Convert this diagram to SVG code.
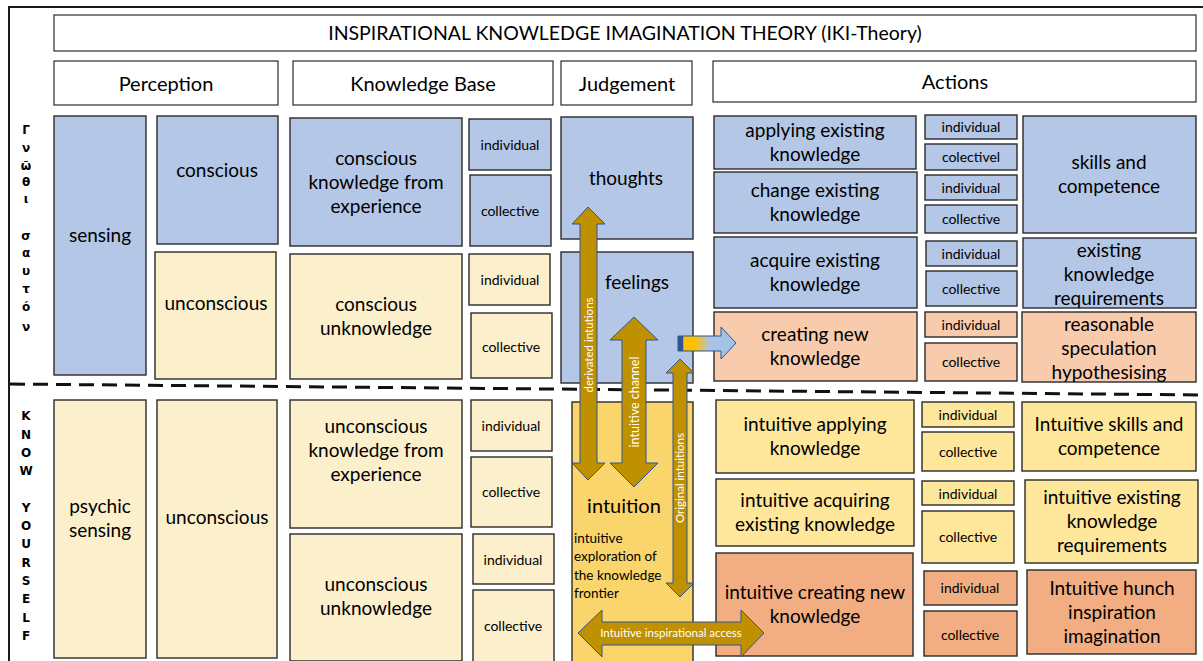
<svg xmlns="http://www.w3.org/2000/svg" width="1203" height="661" viewBox="0 0 1203 661">
<defs>
<style>
.b{stroke:#2a2a2a;stroke-width:1.4}
.hd{fill:#fff;stroke:#2a2a2a;stroke-width:1.2}
.blue{fill:#b4c7e7}
.ly{fill:#fcefcc}
.yy{fill:#fee69b}
.gold{fill:#fad56c}
.sal{fill:#f8cbad}
.org{fill:#f2ae82}
text{font-family:Lato,"Liberation Sans",sans-serif;fill:#000;text-anchor:middle}
.t{font-size:19px}
.h{font-size:20px}
.s{font-size:14px}
.side{font-family:"DejaVu Sans","Liberation Sans",sans-serif;font-weight:bold;font-size:12px}
.al{fill:#fff;font-size:11.5px}
.arr{fill:#bf9000;stroke:#2f5597;stroke-width:1}
</style>
<linearGradient id="ga" gradientUnits="userSpaceOnUse" x1="678" y1="0" x2="736" y2="0">
<stop offset="0" stop-color="#2f5597"/>
<stop offset="0.08" stop-color="#2f5597"/>
<stop offset="0.1" stop-color="#ffc000"/>
<stop offset="0.3" stop-color="#ffc000"/>
<stop offset="0.55" stop-color="#a9c4e6"/>
<stop offset="1" stop-color="#9dc3e6"/>
</linearGradient>
</defs>
<rect width="1203" height="661" fill="#fff"/>
<path d="M9,661 L9,7 L1203,7" fill="none" stroke="#1a1a1a" stroke-width="2"/>

<g id="title"><rect class="hd" x="54" y="15" width="1142" height="36"/><text x="625" y="40" style="font-size:19.5px">INSPIRATIONAL KNOWLEDGE IMAGINATION THEORY (IKI-Theory)</text></g>
<g id="h-perception"><rect class="hd" x="54" y="61" width="224" height="44"/><text class="h" x="166" y="91">Perception</text></g>
<g id="h-kb"><rect class="hd" x="293" y="61" width="260" height="44"/><text class="h" x="423" y="91">Knowledge Base</text></g>
<g id="h-judgement"><rect class="hd" x="561" y="61" width="131" height="44"/><text class="h" x="627" y="91">Judgement</text></g>
<g id="h-actions"><rect class="hd" x="713" y="61" width="483" height="41"/><text class="h" x="955" y="89">Actions</text></g>

<g id="greek">
<text class="side" x="26" y="134">Γ</text>
<text class="side" x="26" y="152">ν</text>
<text class="side" x="26" y="170">ῶ</text>
<text class="side" x="26" y="186">θ</text>
<text class="side" x="26" y="203">ι</text>
<text class="side" x="26" y="240">σ</text>
<text class="side" x="26" y="257">α</text>
<text class="side" x="26" y="275">υ</text>
<text class="side" x="26" y="293">τ</text>
<text class="side" x="26" y="311">ό</text>
<text class="side" x="26" y="331">ν</text>
</g>
<g id="know-yourself">
<text class="side" x="26" y="420">K</text>
<text class="side" x="26" y="439">N</text>
<text class="side" x="26" y="457">O</text>
<text class="side" x="26" y="475">W</text>
<text class="side" x="26" y="512">Y</text>
<text class="side" x="26" y="530">O</text>
<text class="side" x="26" y="548">U</text>
<text class="side" x="26" y="567">R</text>
<text class="side" x="26" y="585">S</text>
<text class="side" x="26" y="603">E</text>
<text class="side" x="26" y="622">L</text>
<text class="side" x="26" y="640">F</text>
</g>

<g id="dashed"><line x1="10" y1="384" x2="1203" y2="395" stroke="#111" stroke-width="3" stroke-dasharray="15 8"/></g>

<g id="sensing"><rect class="b blue" x="54" y="116" width="92" height="259"/><text class="t" x="100" y="242">sensing</text></g>
<g id="conscious"><rect class="b blue" x="157" y="116" width="121" height="128"/><text class="t" x="217" y="177">conscious</text></g>
<g id="unconscious-top"><rect class="b ly" x="155" y="252" width="121" height="127"/><text class="t" x="216" y="310">unconscious</text></g>
<g id="ckfe"><rect class="b blue" x="290" y="118" width="172" height="128"/><text class="t" x="376" y="165">conscious</text><text class="t" x="376" y="189">knowledge from</text><text class="t" x="376" y="213">experience</text></g>
<g id="kb-ind1"><rect class="b blue" x="469" y="119" width="82" height="51"/><text class="s" x="510" y="150">individual</text></g>
<g id="kb-col1"><rect class="b blue" x="470" y="175" width="81" height="71"/><text class="s" x="510" y="216">collective</text></g>
<g id="cuk"><rect class="b ly" x="290" y="254" width="172" height="125"/><text class="t" x="376" y="311">conscious</text><text class="t" x="376" y="335">unknowledge</text></g>
<g id="kb-ind2"><rect class="b ly" x="469" y="254" width="81" height="51"/><text class="s" x="510" y="285">individual</text></g>
<g id="kb-col2"><rect class="b ly" x="471" y="313" width="81" height="65"/><text class="s" x="511" y="352">collective</text></g>
<g id="thoughts"><rect class="b blue" x="561" y="117" width="132" height="122"/><text class="t" x="626" y="185">thoughts</text></g>
<g id="feelings"><rect class="b blue" x="561" y="252" width="132" height="131"/><text class="t" x="637" y="289">feelings</text></g>

<g id="psychic"><rect class="b ly" x="54" y="400" width="92" height="258"/><text class="t" x="100" y="513">psychic</text><text class="t" x="100" y="537">sensing</text></g>
<g id="unconscious-bot"><rect class="b ly" x="157" y="400" width="120" height="258"/><text class="t" x="217" y="524">unconscious</text></g>
<g id="ukfe"><rect class="b ly" x="290" y="400" width="172" height="128"/><text class="t" x="376" y="433">unconscious</text><text class="t" x="376" y="457">knowledge from</text><text class="t" x="376" y="481">experience</text></g>
<g id="kb-ind3"><rect class="b ly" x="471" y="400" width="81" height="51"/><text class="s" x="511" y="431">individual</text></g>
<g id="kb-col3"><rect class="b ly" x="471" y="457" width="81" height="70"/><text class="s" x="511" y="497">collective</text></g>
<g id="uuk"><rect class="b ly" x="290" y="534" width="172" height="127"/><text class="t" x="376" y="591">unconscious</text><text class="t" x="376" y="615">unknowledge</text></g>
<g id="kb-ind4"><rect class="b ly" x="473" y="534" width="81" height="50"/><text class="s" x="513" y="565">individual</text></g>
<g id="kb-col4"><rect class="b ly" x="473" y="590" width="81" height="72"/><text class="s" x="513" y="631">collective</text></g>
<g id="intuition"><rect class="b gold" x="572" y="402" width="121" height="262"/><text class="h" x="624" y="513">intuition</text>
<text x="574" y="543" style="font-size:13.5px;text-anchor:start">intuitive</text>
<text x="574" y="561" style="font-size:13.5px;text-anchor:start">exploration of</text>
<text x="574" y="580" style="font-size:13.5px;text-anchor:start">the knowledge</text>
<text x="574" y="598" style="font-size:13.5px;text-anchor:start">frontier</text></g>

<g id="a-apply"><rect class="b blue" x="714" y="116" width="202" height="53"/><text class="t" x="815" y="137">applying existing</text><text class="t" x="815" y="161">knowledge</text></g>
<g id="a-change"><rect class="b blue" x="714" y="172" width="203" height="61"/><text class="t" x="815" y="197">change existing</text><text class="t" x="815" y="221">knowledge</text></g>
<g id="a-acquire"><rect class="b blue" x="714" y="237" width="203" height="71"/><text class="t" x="815" y="267">acquire existing</text><text class="t" x="815" y="291">knowledge</text></g>
<g id="a-create"><rect class="b sal" x="714" y="312" width="203" height="69"/><text class="t" x="815" y="341">creating new</text><text class="t" x="815" y="365">knowledge</text></g>
<g id="a-ind1"><rect class="b blue" x="925" y="115" width="92" height="24"/><text class="s" x="971" y="132">individual</text></g>
<g id="a-col1"><rect class="b blue" x="925" y="144" width="92" height="26"/><text class="s" x="971" y="162">colectivel</text></g>
<g id="a-ind2"><rect class="b blue" x="925" y="175" width="92" height="25"/><text class="s" x="971" y="193">individual</text></g>
<g id="a-col2"><rect class="b blue" x="925" y="205" width="92" height="28"/><text class="s" x="971" y="224">collective</text></g>
<g id="a-ind3"><rect class="b blue" x="926" y="241" width="91" height="25"/><text class="s" x="971" y="259">individual</text></g>
<g id="a-col3"><rect class="b blue" x="926" y="271" width="91" height="35"/><text class="s" x="971" y="294">collective</text></g>
<g id="a-ind4"><rect class="b sal" x="925" y="312" width="92" height="25"/><text class="s" x="971" y="330">individual</text></g>
<g id="a-col4"><rect class="b sal" x="925" y="343" width="92" height="38"/><text class="s" x="971" y="367">collective</text></g>
<g id="a-skills"><rect class="b blue" x="1023" y="116" width="173" height="117"/><text class="t" x="1109" y="169">skills and</text><text class="t" x="1109" y="193">competence</text></g>
<g id="a-ekr"><rect class="b blue" x="1023" y="238" width="173" height="70"/><text class="t" x="1109" y="257">existing</text><text class="t" x="1109" y="281">knowledge</text><text class="t" x="1109" y="305">requirements</text></g>
<g id="a-rsh"><rect class="b sal" x="1022" y="312" width="174" height="70"/><text class="t" x="1109" y="331">reasonable</text><text class="t" x="1109" y="355">speculation</text><text class="t" x="1109" y="379">hypothesising</text></g>

<g id="i-apply"><rect class="b yy" x="716" y="400" width="198" height="73"/><text class="t" x="815" y="431">intuitive applying</text><text class="t" x="815" y="455">knowledge</text></g>
<g id="i-acquire"><rect class="b yy" x="716" y="479" width="198" height="67"/><text class="t" x="815" y="507">intuitive acquiring</text><text class="t" x="815" y="531">existing knowledge</text></g>
<g id="i-create"><rect class="b org" x="716" y="553" width="197" height="103"/><text class="t" x="815" y="599">intuitive creating new</text><text class="t" x="815" y="623">knowledge</text></g>
<g id="i-ind1"><rect class="b yy" x="922" y="402" width="92" height="25"/><text class="s" x="968" y="420">individual</text></g>
<g id="i-col1"><rect class="b yy" x="922" y="432" width="92" height="39"/><text class="s" x="968" y="457">collective</text></g>
<g id="i-ind2"><rect class="b yy" x="922" y="481" width="92" height="24"/><text class="s" x="968" y="499">individual</text></g>
<g id="i-col2"><rect class="b yy" x="922" y="511" width="92" height="52"/><text class="s" x="968" y="542">collective</text></g>
<g id="i-ind3"><rect class="b org" x="924" y="571" width="93" height="34"/><text class="s" x="970" y="593">individual</text></g>
<g id="i-col3"><rect class="b org" x="924" y="611" width="93" height="45"/><text class="s" x="970" y="640">collective</text></g>
<g id="i-skills"><rect class="b yy" x="1022" y="402" width="174" height="69"/><text class="t" x="1109" y="431">Intuitive skills and</text><text class="t" x="1109" y="455">competence</text></g>
<g id="i-ekr"><rect class="b yy" x="1025" y="480" width="173" height="83"/><text class="t" x="1112" y="504">intuitive existing</text><text class="t" x="1112" y="528">knowledge</text><text class="t" x="1112" y="552">requirements</text></g>
<g id="i-hunch"><rect class="b org" x="1027" y="570" width="169" height="84"/><text class="t" x="1112" y="595">Intuitive hunch</text><text class="t" x="1112" y="619">inspiration</text><text class="t" x="1112" y="643">imagination</text></g>

<g id="connectors">
<path class="arr" d="M588,207 L605,224 L597,224 L597,463 L605,463 L588,480 L572,463 L580,463 L580,224 L572,224 Z"/>
<text class="al" transform="translate(592.5,345) rotate(-90)" x="0" y="0">derivated intutions</text>
<path class="arr" d="M634,317 L658,340 L646,340 L646,463 L658,463 L634,487 L610,463 L622,463 L622,340 L610,340 Z"/>
<text class="al" transform="translate(638.5,402) rotate(-90)" x="0" y="0" style="font-size:12.5px">intuitive channel</text>
<path class="arr" d="M680,359 L694,373 L687,373 L687,583 L694,583 L680,597 L666,583 L673,583 L673,373 L666,373 Z"/>
<text class="al" transform="translate(684,478) rotate(-90)" x="0" y="0">Original intuitions</text>
<path class="arr" d="M578,633 L602,610 L602,622 L741,622 L741,610 L764,633 L741,657 L741,645 L602,645 L602,657 Z"/>
<text class="al" x="671" y="637">Intuitive inspirational access</text>
<path d="M678,336 L721,336 L721,327 L736,343 L721,359 L721,351 L678,351 Z" fill="url(#ga)" stroke="#2f5597" stroke-width="1"/>
</g>
</svg>
